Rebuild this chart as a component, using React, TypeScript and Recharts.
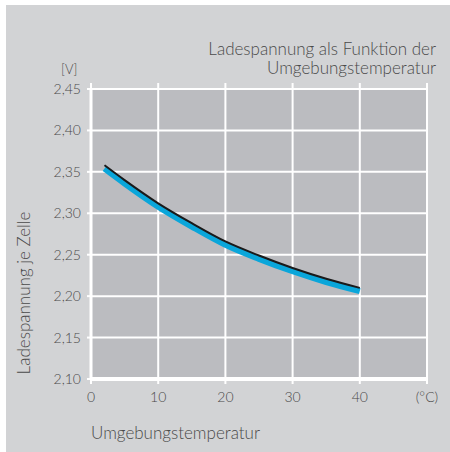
import { CartesianGrid, Line, LineChart, XAxis, YAxis } from "recharts";

// temperature in °C
const temps = [2, 5, 10, 15, 20, 25, 30, 35, 40];
// charging voltage per cell (black edge line)
const voltageTop = [2.358, 2.34, 2.312, 2.288, 2.266, 2.249, 2.234, 2.221, 2.21];
// blue band, a touch below the black line
const voltageBand = [2.354, 2.336, 2.308, 2.284, 2.262, 2.245, 2.23, 2.217, 2.206];

const xTicks = [0, 10, 20, 30, 40, 50];
const yTicks = [2.1, 2.15, 2.2, 2.25, 2.3, 2.35, 2.4, 2.45];

const data = temps.map((t, i) => ({
  t,
  top: voltageTop[i],
  band: voltageBand[i],
}));

const FONT = "Lato, 'Open Sans', sans-serif";
const TEXT = "#4a4a4a";
const BG = "#d2d3d5";
const PLOT = "#bbbcc0";

const label = {
  position: "absolute" as const,
  fontSize: 17,
  fontWeight: 300,
  lineHeight: "18px",
  color: TEXT,
  whiteSpace: "nowrap" as const,
};

export default function App() {
  return (
    <div
      style={{
        position: "absolute",
        left: 0,
        top: 0,
        width: 450,
        height: 452,
        background: "#fff",
        fontFamily: FONT,
      }}
    >
      <div
        style={{
          position: "absolute",
          left: 6,
          top: 5,
          width: 444,
          height: 447,
          background: BG,
        }}
      />

      <div style={{ ...label, right: 14, top: 40 }}>
        Ladespannung als Funktion der
      </div>
      <div style={{ ...label, right: 14, top: 59 }}>
        Umgebungstemperatur
      </div>

      <div
        style={{
          ...label,
          left: 61,
          top: 62,
          fontSize: 13,
          lineHeight: "14px",
        }}
      >
        [V]
      </div>

      <div
        style={{
          ...label,
          left: 24,
          top: 293,
          transform: "translate(-50%, -50%) rotate(-90deg)",
        }}
      >
        Ladespannung je Zelle
      </div>

      <div style={{ ...label, left: 91, top: 424 }}>
        Umgebungstemperatur
      </div>

      <div style={{ position: "absolute", left: 0, top: 0 }}>
        <LineChart
          width={450}
          height={452}
          data={data}
          margin={{ top: 79, right: 13, bottom: 43, left: 41 }}
        >
          <CartesianGrid
            xAxisId="b"
            yAxisId="v"
            fill={PLOT}
            fillOpacity={1}
            stroke="#fff"
            strokeWidth={2}
            strokeOpacity={1}
          />

          <XAxis
            xAxisId="b"
            dataKey="t"
            type="number"
            domain={[0, 50]}
            ticks={xTicks}
            height={30}
            tickFormatter={(v: number) => (v === 50 ? "(°C)" : String(v))}
            tick={{ fill: TEXT, fontSize: 14, fontFamily: FONT, fontWeight: 300 }}
            tickSize={5}
            tickMargin={8}
            tickLine={{ stroke: "#fff", strokeWidth: 2 }}
            axisLine={{ stroke: "#fff", strokeWidth: 4 }}
          />
          <XAxis
            xAxisId="top"
            orientation="top"
            dataKey="t"
            type="number"
            domain={[0, 50]}
            ticks={xTicks}
            height={10}
            tickFormatter={() => ""}
            tickSize={6}
            tickLine={{ stroke: "#fff", strokeWidth: 2 }}
            axisLine={false}
          />

          <YAxis
            yAxisId="v"
            type="number"
            domain={[2.1, 2.45]}
            ticks={yTicks}
            width={50}
            tickFormatter={(v: number) => v.toFixed(2).replace(".", ",")}
            tick={{ fill: TEXT, fontSize: 14, fontFamily: FONT, fontWeight: 300 }}
            tickSize={4}
            tickMargin={6}
            tickLine={{ stroke: "#fff", strokeWidth: 2 }}
            axisLine={{ stroke: "#fff", strokeWidth: 3 }}
          />
          <YAxis
            yAxisId="r"
            orientation="right"
            type="number"
            domain={[2.1, 2.45]}
            ticks={yTicks}
            width={10}
            tickFormatter={() => ""}
            tickSize={6}
            tickLine={{ stroke: "#fff", strokeWidth: 2 }}
            axisLine={false}
          />

          <Line
            xAxisId="b"
            yAxisId="v"
            type="monotone"
            dataKey="band"
            stroke="#0aa6da"
            strokeWidth={6}
            strokeLinecap="butt"
            dot={false}
            activeDot={false}
            isAnimationActive={false}
          />
          <Line
            xAxisId="b"
            yAxisId="v"
            type="monotone"
            dataKey="top"
            stroke="#1a1a1a"
            strokeWidth={2}
            strokeLinecap="butt"
            dot={false}
            activeDot={false}
            isAnimationActive={false}
          />
        </LineChart>
      </div>
    </div>
  );
}
